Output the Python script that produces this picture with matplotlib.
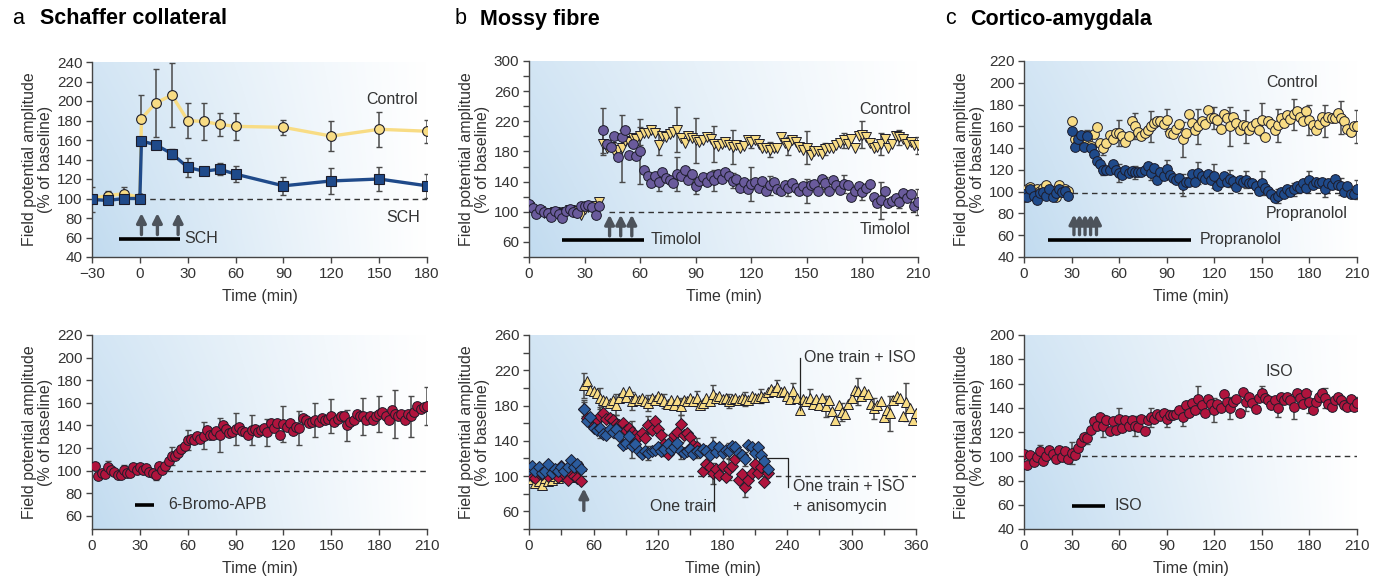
import numpy as np
import matplotlib
matplotlib.use("Agg")
import matplotlib.pyplot as plt

plt.rcParams['font.family'] = ['Liberation Sans', 'DejaVu Sans']

# ---------------- data ----------------
# a (top): Schaffer collateral, control vs SCH
sc_t = [-30, -20, -10, 0, 1, 10, 20, 30, 40, 50, 60, 90, 120, 150, 180]
sc_ctrl = [100, 103, 105, 101, 182, 198, 206, 180, 179, 176, 174, 173, 164, 171, 169]
sc_ctrl_err = [0, 5, 7, 0, 24, 35, 33, 18, 19, 12, 14, 8, 15, 18, 12]
sc_sch = [99, 98, 100, 100, 159, 155, 146, 132, 128, 130, 125, 113, 118, 120, 113]
sc_sch_err = [13, 3, 3, 0, 3, 4, 5, 10, 4, 6, 8, 9, 13, 12, 12]

# a (bottom): 6-Bromo-APB
apb_t = np.arange(2, 211, 2)
apb = [104, 95, 98, 97, 103, 101, 99, 96, 96, 101,
       98, 98, 103, 101, 103, 101, 102, 99, 98, 96,
       104, 101, 104, 109, 113, 113, 116, 119, 122, 127,
       128, 127, 131, 128, 131, 136, 132, 132, 135, 132,
       140, 137, 133, 134, 137, 139, 135, 134, 132, 136,
       137, 134, 136, 138, 134, 142, 138, 142, 132, 141,
       139, 142, 135, 139, 138, 147, 145, 142, 143, 145,
       143, 147, 145, 146, 148, 143, 146, 148, 148, 140,
       143, 145, 150, 148, 148, 145, 148, 145, 148, 150,
       152, 148, 145, 154, 150, 148, 150, 145, 150, 148,
       152, 157, 155, 156, 157]
apb_err = [6, 4, 3, 4, 8, 9, 12, 15, 14, 13, 12, 16, 15, 15, 15, 14, 16, 16, 21, 18, 17]

# b (top): Mossy fibre, control vs timolol
mf_base_t = np.arange(0, 40, 2)
mf_tim_base = [110, 105, 97, 104, 100, 98, 93, 101, 97, 92,
               101, 104, 100, 99, 108, 108, 109, 106, 96, 108]
mf_ctl_base = [106, 103, 100, 101, 98, 97, 99, 100, 98, 97,
               100, 102, 101, 99, 96, 104, 106, 107, 104, 113]
mf_t = np.arange(40, 211, 2)
mf_tim = [208, 190, 186, 200, 172, 199, 208, 175, 190, 174,
          180, 155, 148, 138, 148, 139, 153, 145, 142, 138,
          150, 148, 156, 142, 150, 134, 141, 146, 140, 148,
          142, 150, 143, 153, 147, 141, 143, 132, 139, 130,
          137, 139, 131, 141, 128, 135, 140, 130, 127, 136,
          131, 138, 132, 128, 134, 128, 135, 137, 127, 143,
          138, 127, 142, 135, 129, 137, 135, 119, 128, 134,
          126, 131, 137, 120, 111, 115, 128, 111, 114, 118,
          113, 125, 118, 124, 108, 113]
mf_ctl = [190, 184, 186, 180, 182, 184, 194, 192, 198, 197,
          201, 204, 205, 208, 205, 189, 201, 199, 203, 206,
          209, 198, 191, 201, 198, 195, 193, 195, 199, 197,
          190, 187, 190, 192, 189, 186, 189, 185, 187, 195,
          193, 195, 190, 185, 184, 182, 185, 184, 199, 191,
          187, 195, 192, 186, 182, 185, 175, 181, 180, 176,
          183, 184, 185, 189, 191, 195, 190, 197, 185, 200,
          202, 199, 191, 185, 186, 190, 197, 185, 190, 200,
          199, 197, 190, 192, 189, 188]
mf_tim_err = [30, 10, 43, 12, 22, 10, 14, 10, 23, 13, 10, 16, 8, 12, 10, 25, 8, 17]
mf_ctl_err = [15, 44, 12, 14, 30, 30, 24, 22, 8, 10, 12, 22, 8, 10, 18, 15, 10, 11]

# b (bottom): one train, one train + ISO, one train + ISO + anisomycin
ot_base_t = np.arange(0, 49, 3)
ot_blue_base = [108, 112, 106, 110, 103, 106, 114, 104, 108, 106, 110, 106, 110, 118, 110, 114, 108]
ot_red_base = [105, 100, 98, 104, 102, 106, 100, 104, 103, 99, 112, 102, 96, 104, 100, 98, 94]
ot_yel_base = [99, 97, 92, 95, 90, 98, 94, 96, 100, 98, 101, 100, 102, 99, 101, 104, 112]
ot_t = np.arange(51, 223, 3)
ot_blue = [176, 162, 167, 155, 152, 155, 148, 147, 153, 150,
           153, 145, 135, 137, 146, 134, 136, 128, 125, 129,
           126, 128, 130, 133, 129, 131, 136, 130, 133, 137,
           129, 126, 128, 131, 125, 129, 127, 131, 129, 124,
           134, 127, 133, 126, 130, 128, 134, 133, 126, 124,
           119, 135, 133, 126, 133, 124, 117, 108]
ot_red = [176, 166, 160, 158, 164, 168, 172, 165, 166, 164,
          159, 158, 160, 152, 154, 150, 147, 145, 149, 143,
          158, 152, 162, 153, 147, 136, 125, 140, 147, 150,
          159, 147, 149, 144, 135, 133, 129, 106, 114, 110,
          103, 108, 101, 112, 99, 108, 112, 119, 96, 102,
          88, 96, 103, 114, 104, 110, 93, 103]
ot_blue_err = [8, 12, 10, 14, 8, 8, 10, 8, 10, 9, 8, 8]
ot_red_err = [10, 10, 10, 12, 10, 12, 10, 10, 12, 12, 12, 10]
iso_t = np.arange(51, 361, 3)
iso_yel = [203, 208, 198, 196, 194, 188, 186, 185, 183, 186,
           181, 188, 195, 190, 196, 185, 189, 186, 188, 185,
           183, 189, 186, 191, 188, 185, 182, 186, 181, 186,
           179, 186, 185, 188, 185, 188, 181, 183, 188, 185,
           193, 189, 191, 187, 189, 185, 187, 189, 186, 189,
           187, 186, 191, 189, 189, 191, 190, 195, 199, 196,
           201, 195, 197, 191, 187, 196, 189, 175, 187, 185,
           189, 182, 187, 181, 189, 179, 186, 174, 164, 181,
           173, 170, 182, 189, 198, 196, 191, 197, 193, 182,
           177, 181, 185, 167, 175, 171, 186, 191, 189, 168,
           184, 177, 164, 171]
iso_yel_err = [14, 12, 12, 10, 9, 8, 10, 8, 10, 8, 8, 8, 8, 10, 10, 12, 10, 15, 12, 20, 22]

# c (top): Cortico-amygdala, control vs propranolol
ca_base_t = np.arange(0, 29, 2)
ca_prop_base = [98, 95, 102, 96, 92, 99, 100, 96, 102, 95, 99, 102, 100, 101, 96]
ca_ctl_base = [95, 102, 104, 100, 102, 101, 103, 106, 100, 101, 95, 106, 100, 102, 101]
ca_t = np.arange(30, 211, 2)
ca_prop = [156, 141, 148, 152, 141, 151, 140, 135, 128, 125,
           120, 120, 120, 125, 120, 117, 115, 120, 117, 119,
           118, 118, 118, 120, 124, 117, 122, 111, 118, 114,
           121, 115, 113, 111, 113, 106, 109, 109, 116, 109,
           117, 114, 112, 116, 111, 114, 105, 109, 114, 109,
           112, 110, 104, 111, 109, 111, 108, 108, 105, 101,
           108, 103, 101, 98, 94, 96, 100, 98, 102, 100,
           102, 105, 103, 108, 103, 111, 106, 109, 108, 109,
           102, 108, 106, 112, 106, 105, 100, 105, 98, 98, 102]
ca_ctl = [165, 148, 145, 150, 143, 148, 142, 153, 159, 145,
          140, 145, 152, 148, 154, 154, 151, 146, 151, 165,
          160, 155, 151, 154, 157, 160, 163, 165, 165, 162,
          166, 154, 153, 158, 162, 148, 154, 171, 163, 157,
          160, 165, 162, 175, 168, 168, 166, 158, 171, 168,
          160, 169, 163, 157, 161, 160, 157, 160, 163, 157,
          166, 150, 165, 162, 157, 161, 168, 163, 170, 167,
          171, 174, 169, 165, 174, 166, 161, 157, 162, 169,
          165, 169, 168, 168, 172, 168, 165, 158, 155, 160, 160]
ca_ctl_err = [0, 8, 6, 12, 12, 14, 10, 16, 16, 10, 18, 15, 15, 15, 14, 14, 15, 15, 15]
ca_prop_err = [0, 6, 5, 8, 6, 6, 8, 10, 10, 11, 8, 8, 11, 6, 6, 8, 7, 8, 9]

# c (bottom): ISO
ciso_t = np.arange(0, 211, 2)
ciso = [102, 93, 101, 95, 99, 104, 96, 100, 105, 102,
        98, 105, 99, 104, 98, 103, 101, 107, 112, 116,
        115, 122, 129, 125, 132, 125, 130, 121, 129, 122,
        131, 123, 130, 125, 130, 125, 124, 131, 121, 130,
        132, 131, 135, 133, 136, 131, 134, 134, 135, 138,
        132, 142, 136, 144, 138, 147, 142, 136, 147, 143,
        138, 143, 140, 151, 145, 140, 145, 147, 136, 153,
        145, 149, 144, 139, 148, 152, 148, 146, 142, 146,
        140, 149, 146, 149, 146, 141, 152, 148, 143, 152,
        145, 138, 145, 149, 152, 148, 143, 141, 146, 149,
        146, 142, 141, 147, 141, 144]
ciso_err = [0, 5, 3, 9, 5, 9, 9, 8, 8, 7, 7, 11, 10, 9, 8, 6, 8, 10, 9, 8, 4, 5]

# ---------------- style ----------------
YEL = '#f8dc84'
BLUE = '#1f4a8a'
PURP = '#6a5b9c'
RED = '#b0143d'
DBLUE = '#2b5c9e'
EDGE = '#1c1c2a'
ERR = '#4a4a4a'
TXT = '#333333'
ARROW = '#4d535b'
FS = 11.5

fig = plt.figure(figsize=(13.81, 5.81), dpi=100)
W, H = 1381, 581


def new_ax(l, r, t, b):
    return fig.add_axes([l / W, 1 - b / H, (r - l) / W, (b - t) / H])


def setup(ax, xlim, ylim, xt, yt, xminor=None, yminor=None):
    xx, yy = np.meshgrid(np.linspace(0, 1, 300), np.linspace(0, 1, 80))
    k = (1 - xx) ** 1.1 * (0.72 + 0.28 * (1 - yy))
    blue = np.array([0.76, 0.86, 0.94])
    img = 1 - k[..., None] * (1 - blue)
    ax.imshow(img, extent=(0, 1, 0, 1), transform=ax.transAxes,
              aspect='auto', origin='lower', zorder=0)
    ax.set_xlim(*xlim)
    ax.set_ylim(*ylim)
    ax.set_xticks(xt)
    ax.set_yticks(yt)
    if xminor is not None:
        ax.set_xticks(xminor, minor=True)
    if yminor is not None:
        ax.set_yticks(yminor, minor=True)
    for s in ['top', 'right']:
        ax.spines[s].set_visible(False)
    for s in ['left', 'bottom']:
        ax.spines[s].set_color('#444444')
        ax.spines[s].set_linewidth(1.0)
    ax.tick_params(which='both', direction='out', color='#444444', labelcolor=TXT,
                   labelsize=11, length=4, width=1, pad=3)
    ax.set_xlabel('Time (min)', fontsize=FS, color=TXT, labelpad=6)
    ax.set_ylabel('Field potential amplitude\n(% of baseline)', fontsize=FS,
                  color=TXT, linespacing=1.05, labelpad=3)


def dash(ax, x0, x1, y=100):
    ax.plot([x0, x1], [y, y], ls=(0, (4, 3)), color='#333333', lw=1, zorder=1)


def arrows(ax, xs, y0, y1):
    for x in xs:
        ax.annotate('', xy=(x, y1), xytext=(x, y0), zorder=6,
                    arrowprops=dict(arrowstyle='-|>,head_width=0.28,head_length=0.55',
                                    lw=2.4, color=ARROW, shrinkA=0, shrinkB=0))


def bar(ax, x0, x1, y, label, lx):
    ax.plot([x0, x1], [y, y], color='black', lw=2.6, solid_capstyle='butt', zorder=6)
    ax.text(lx, y, label, fontsize=FS, color=TXT, va='center', ha='left', zorder=6)


def errs(ax, t, v, e, step, start=0):
    t = np.asarray(t)[start::step]
    v = np.asarray(v)[start::step]
    ax.errorbar(t[:len(e)], v[:len(e)], yerr=e, fmt='none', ecolor=ERR,
                elinewidth=1.1, capsize=2.5, capthick=1, zorder=2)


# ---------- titles ----------
for x0, x1, lab, name in [(12, 40, 'a', 'Schaffer collateral'),
                          (455, 480, 'b', 'Mossy fibre'),
                          (945, 970, 'c', 'Cortico-amygdala')]:
    fig.text(x0 / W, 1 - 19 / H, lab, fontsize=15.5, color='black', va='center')
    fig.text(x1 / W, 1 - 19 / H, name, fontsize=15.5, fontweight='bold', color='black', va='center')

# ---------- a top ----------
ax = new_ax(92, 427, 62, 257)
setup(ax, (-30, 180), (40, 240), range(-30, 181, 30), range(40, 241, 20))
dash(ax, 0, 180)
ax.errorbar(sc_t, sc_ctrl, yerr=sc_ctrl_err, fmt='none', ecolor=ERR, elinewidth=1.1,
            capsize=2.5, zorder=2)
ax.errorbar(sc_t, sc_sch, yerr=sc_sch_err, fmt='none', ecolor=ERR, elinewidth=1.1,
            capsize=2.5, zorder=2)
ax.plot(sc_t, sc_ctrl, color=YEL, lw=2.4, marker='o', ms=7, mfc=YEL, mec=EDGE,
        mew=0.8, zorder=3)
ax.plot(sc_t, sc_sch, color=BLUE, lw=2.4, marker='s', ms=7, mfc=BLUE, mec=EDGE,
        mew=0.8, zorder=4)
arrows(ax, [1, 11, 24], 63, 85)
bar(ax, -13, 25, 58.5, 'SCH', 28)
ax.text(158, 202, 'Control', fontsize=FS, color=TXT, ha='center', va='center')
ax.text(165, 81, 'SCH', fontsize=FS, color=TXT, ha='center', va='center')

# ---------- a bottom ----------
ax = new_ax(92, 427, 335, 529)
setup(ax, (0, 210), (48.5, 220), range(0, 211, 30), range(60, 221, 20))
dash(ax, 47, 210)
errs(ax, apb_t, apb, apb_err, 5, 4)
ax.plot(apb_t, apb, ls='none', marker='o', ms=7, mfc=RED, mec=EDGE, mew=0.7, zorder=3)
bar(ax, 27, 39, 70, '6-Bromo-APB', 47.5)

# ---------- b top ----------
ax = new_ax(529, 918, 61, 257)
setup(ax, (0, 210), (40, 300), range(0, 211, 30), range(60, 301, 40),
      yminor=range(40, 301, 20))
dash(ax, 43, 210)
errs(ax, mf_t, mf_ctl, mf_ctl_err, 5)
errs(ax, mf_t, mf_tim, mf_tim_err, 5)
ax.plot(mf_base_t, mf_ctl_base, ls='none', marker='v', ms=6.8, mfc=YEL, mec=EDGE, mew=0.7, zorder=3)
ax.plot(mf_t, mf_ctl, ls='none', marker='v', ms=6.8, mfc=YEL, mec=EDGE, mew=0.7, zorder=3)
ax.plot(mf_base_t, mf_tim_base, ls='none', marker='o', ms=7, mfc=PURP, mec=EDGE, mew=0.7, zorder=4)
ax.plot(mf_t, mf_tim, ls='none', marker='o', ms=7, mfc=PURP, mec=EDGE, mew=0.7, zorder=4)
arrows(ax, [43.5, 49.5, 55.5], 68, 96)
bar(ax, 18, 62, 63, 'Timolol', 65.5)
ax.text(192, 235, 'Control', fontsize=FS, color=TXT, ha='center', va='center')
ax.text(192, 76, 'Timolol', fontsize=FS, color=TXT, ha='center', va='center')

# ---------- b bottom ----------
ax = new_ax(529, 916, 335, 529)
setup(ax, (0, 360), (40, 260), range(0, 361, 60), range(60, 261, 40),
      xminor=range(30, 361, 60), yminor=range(40, 261, 20))
dash(ax, 48, 360)
errs(ax, iso_t, iso_yel, iso_yel_err, 5)
errs(ax, ot_t, ot_red, ot_red_err, 5)
errs(ax, ot_t, ot_blue, ot_blue_err, 5)
ax.plot(ot_base_t, ot_yel_base, ls='none', marker='^', ms=6.8, mfc=YEL, mec=EDGE, mew=0.7, zorder=3)
ax.plot(iso_t, iso_yel, ls='none', marker='^', ms=6.8, mfc=YEL, mec=EDGE, mew=0.7, zorder=3)
ax.plot(ot_base_t, ot_red_base, ls='none', marker='D', ms=5.8, mfc=RED, mec=EDGE, mew=0.7, zorder=4)
ax.plot(ot_t, ot_red, ls='none', marker='D', ms=5.8, mfc=RED, mec=EDGE, mew=0.7, zorder=4)
ax.plot(ot_base_t, ot_blue_base, ls='none', marker='D', ms=5.8, mfc=DBLUE, mec=EDGE, mew=0.7, zorder=5)
ax.plot(ot_t, ot_blue, ls='none', marker='D', ms=5.8, mfc=DBLUE, mec=EDGE, mew=0.7, zorder=5)
arrows(ax, [51], 61, 86)
ax.plot([252, 252], [175, 234], color='#222222', lw=0.9, zorder=6)
ax.text(256, 234, 'One train + ISO', fontsize=FS, color=TXT, va='center', ha='left')
ax.plot([221, 241, 241], [120, 120, 88], color='#222222', lw=0.9, zorder=6)
ax.text(246, 88, 'One train + ISO', fontsize=FS, color=TXT, va='center', ha='left')
ax.text(246, 66, '+ anisomycin', fontsize=FS, color=TXT, va='center', ha='left')
ax.plot([172, 172], [99, 60], color='#222222', lw=0.9, zorder=6)
ax.text(143, 65, 'One train', fontsize=FS, color=TXT, va='center', ha='center')

# ---------- c top ----------
ax = new_ax(1024, 1357, 61, 257)
setup(ax, (0, 210), (40, 220), range(0, 211, 30), range(40, 221, 20))
dash(ax, 30, 210, 98.5)
errs(ax, ca_t, ca_ctl, ca_ctl_err, 5)
errs(ax, ca_t, ca_prop, ca_prop_err, 5)
ax.plot(ca_base_t, ca_ctl_base, ls='none', marker='o', ms=7, mfc=YEL, mec=EDGE, mew=0.7, zorder=3)
ax.plot(ca_t, ca_ctl, ls='none', marker='o', ms=7, mfc=YEL, mec=EDGE, mew=0.7, zorder=3)
ax.plot(ca_base_t, ca_prop_base, ls='none', marker='o', ms=7, mfc=BLUE, mec=EDGE, mew=0.7, zorder=4)
ax.plot(ca_t, ca_prop, ls='none', marker='o', ms=7, mfc=BLUE, mec=EDGE, mew=0.7, zorder=4)
arrows(ax, [31.5, 35, 38.5, 42, 45.7], 60.5, 79)
bar(ax, 15, 105, 56, 'Propranolol', 111)
ax.text(169, 200, 'Control', fontsize=FS, color=TXT, ha='center', va='center')
ax.text(178, 80, 'Propranolol', fontsize=FS, color=TXT, ha='center', va='center')

# ---------- c bottom ----------
ax = new_ax(1024, 1357, 335, 529)
setup(ax, (0, 210), (40, 200), range(0, 211, 30), range(40, 201, 20))
dash(ax, 30, 210)
errs(ax, ciso_t, ciso, ciso_err, 5)
ax.plot(ciso_t, ciso, ls='none', marker='o', ms=7, mfc=RED, mec=EDGE, mew=0.7, zorder=3)
bar(ax, 30, 51, 59, 'ISO', 57)
ax.text(161, 170, 'ISO', fontsize=FS, color=TXT, ha='center', va='center')

fig.savefig('out.png', dpi=100)
